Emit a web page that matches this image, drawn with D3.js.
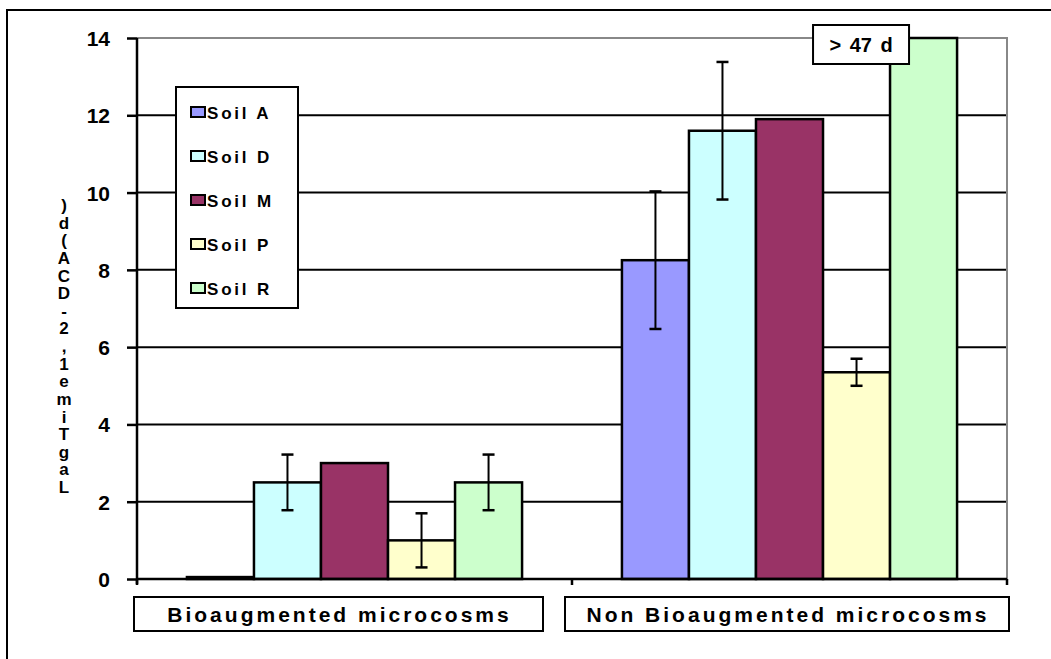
<!DOCTYPE html>
<html><head><meta charset="utf-8">
<script src="https://cdn.jsdelivr.net/npm/d3@7"></script>
<style>body{margin:0;background:#fff}svg{display:block}text{font-family:"Liberation Sans",Arial,sans-serif;font-weight:bold}</style>
</head><body><svg id="c" width="1051" height="659"></svg>
<script>
const categories = ["Bioaugmented microcosms", "Non Bioaugmented microcosms"];
const soils = ["Soil A", "Soil D", "Soil M", "Soil P", "Soil R"];
const colors = ["#9999FF", "#CCFFFF", "#993366", "#FFFFCC", "#CCFFCC"];
const bioValues = [0.05, 2.5, 3.0, 1.0, 2.5];
const bioErrors = [0, 0.72, 0, 0.7, 0.72];
const nonValues = [8.25, 11.6, 11.9, 5.35, 14];
const nonErrors = [1.78, 1.78, 0, 0.35, 0];
const yTicks = [0, 2, 4, 6, 8, 10, 12, 14];
const yLabel = "Lag Time 1,2-DCA (d)";
const note = "> 47 d";

const svg = d3.select("#c");
const L = 137, R = 1007, T = 38, B = 579;
const x0 = d3.scaleBand().domain(categories).range([L, R]);
const x1 = d3.scaleBand().domain(soils).range([0, x0.bandwidth()]).paddingOuter(0.745).paddingInner(0);
const y = d3.scaleLinear().domain([0, 14]).range([B, T]);

// outer frame
svg.append("path").attr("d", `M7,659 L7,10 L1051,10`).attr("fill", "none").attr("stroke", "#000").attr("stroke-width", 2);

// gridlines
svg.append("g").selectAll("line").data(yTicks.filter(d => d > 0 && d < 14)).join("line")
  .attr("x1", L).attr("x2", R).attr("y1", d => y(d)).attr("y2", d => y(d))
  .attr("stroke", "#000").attr("stroke-width", 2);
// plot border gray (top & right)
svg.append("path").attr("d", `M${L},${y(14)} L${R},${y(14)} L${R},${B}`).attr("fill", "none").attr("stroke", "#888").attr("stroke-width", 2);

const data = [];
categories.forEach((c, ci) => {
  const vals = ci === 0 ? bioValues : nonValues;
  const errs = ci === 0 ? bioErrors : nonErrors;
  soils.forEach((s, si) => data.push({c, s, v: vals[si], e: errs[si], col: colors[si]}));
});

const g = svg.append("g");
g.selectAll("rect").data(data).join("rect")
  .attr("x", d => x0(d.c) + x1(d.s)).attr("width", x1.bandwidth())
  .attr("y", d => y(d.v)).attr("height", d => B - y(d.v))
  .attr("fill", d => d.col).attr("stroke", "#000").attr("stroke-width", 2.5);

// error bars
const eb = g.selectAll("g.eb").data(data.filter(d => d.e > 0)).join("g");
eb.append("line").attr("x1", d => x0(d.c) + x1(d.s) + x1.bandwidth()/2).attr("x2", d => x0(d.c) + x1(d.s) + x1.bandwidth()/2)
  .attr("y1", d => y(d.v + d.e)).attr("y2", d => y(d.v - d.e)).attr("stroke", "#000").attr("stroke-width", 2);
[1, -1].forEach(sg => {
  eb.append("line").attr("x1", d => x0(d.c) + x1(d.s) + x1.bandwidth()/2 - 6).attr("x2", d => x0(d.c) + x1(d.s) + x1.bandwidth()/2 + 6)
    .attr("y1", d => y(d.v + sg*d.e)).attr("y2", d => y(d.v + sg*d.e)).attr("stroke", "#000").attr("stroke-width", 2.5);
});

// y axis
const ya = svg.append("g").attr("transform", `translate(${L},0)`)
  .call(d3.axisLeft(y).tickValues(yTicks).tickSize(10).tickPadding(17).tickFormat(d3.format("d")));
ya.select(".domain").attr("stroke", "#000").attr("stroke-width", 2.5).attr("d", `M0,${T} V${B+5}`);
ya.selectAll(".tick line").attr("stroke", "#000").attr("stroke-width", 2.5);
ya.selectAll(".tick text").attr("font-size", 21).attr("fill", "#000").attr("dy", "0.36em");

// x axis
svg.append("line").attr("x1", L).attr("x2", R).attr("y1", B).attr("y2", B).attr("stroke", "#000").attr("stroke-width", 2.5);
const xt = [L, x0(categories[1]), R];
svg.append("g").selectAll("line").data(xt).join("line")
  .attr("x1", d => d).attr("x2", d => d).attr("y1", B).attr("y2", B + 6).attr("stroke", "#000").attr("stroke-width", 2.5);

// category label boxes
const boxes = [{c: categories[0], x1: 134, x2: 543}, {c: categories[1], x1: 565, x2: 1009}];
const cb = svg.append("g").selectAll("g").data(boxes).join("g");
cb.append("rect").attr("x", d => d.x1).attr("width", d => d.x2 - d.x1).attr("y", 597).attr("height", 34)
  .attr("fill", "#fff").attr("stroke", "#000").attr("stroke-width", 2);
cb.append("text").attr("x", d => (d.x1 + d.x2)/2 + 1).attr("y", 622).attr("text-anchor", "middle")
  .attr("font-size", 21).attr("letter-spacing", 3).text(d => d.c);

// note box
const nx = x0(categories[1]) + x1(soils[4]) - 29;
svg.append("rect").attr("x", nx - 48).attr("y", 25).attr("width", 96).attr("height", 39).attr("fill", "#fff").attr("stroke", "#000").attr("stroke-width", 2);
svg.append("text").attr("x", nx).attr("y", 52).attr("text-anchor", "middle").attr("font-size", 20).attr("word-spacing", 3).text(note);

// legend
svg.append("rect").attr("x", 176).attr("y", 87).attr("width", 122).attr("height", 221).attr("fill", "#fff").attr("stroke", "#000").attr("stroke-width", 2);
const lg = svg.append("g").selectAll("g").data(soils).join("g")
  .attr("transform", (d, i) => `translate(191,${112 + i*44})`);
lg.append("rect").attr("x", 0).attr("y", -5).attr("width", 14).attr("height", 10)
  .attr("fill", (d, i) => colors[i]).attr("stroke", "#000").attr("stroke-width", 2);
lg.append("text").attr("x", 16).attr("y", 7).attr("font-size", 17).attr("letter-spacing", 2.8).text(d => d);

// garbled vertical y label: characters stacked, bottom to top
const chars = yLabel.split("").filter(ch => ch !== " ");
const ys = d3.scalePoint().domain(d3.range(chars.length)).range([487, 205]);
svg.append("g").selectAll("text").data(chars).join("text")
  .attr("x", 64).attr("y", (d, i) => ys(i) + 6).attr("text-anchor", "middle").attr("font-size", 17).text(d => d);
</script></body></html>
